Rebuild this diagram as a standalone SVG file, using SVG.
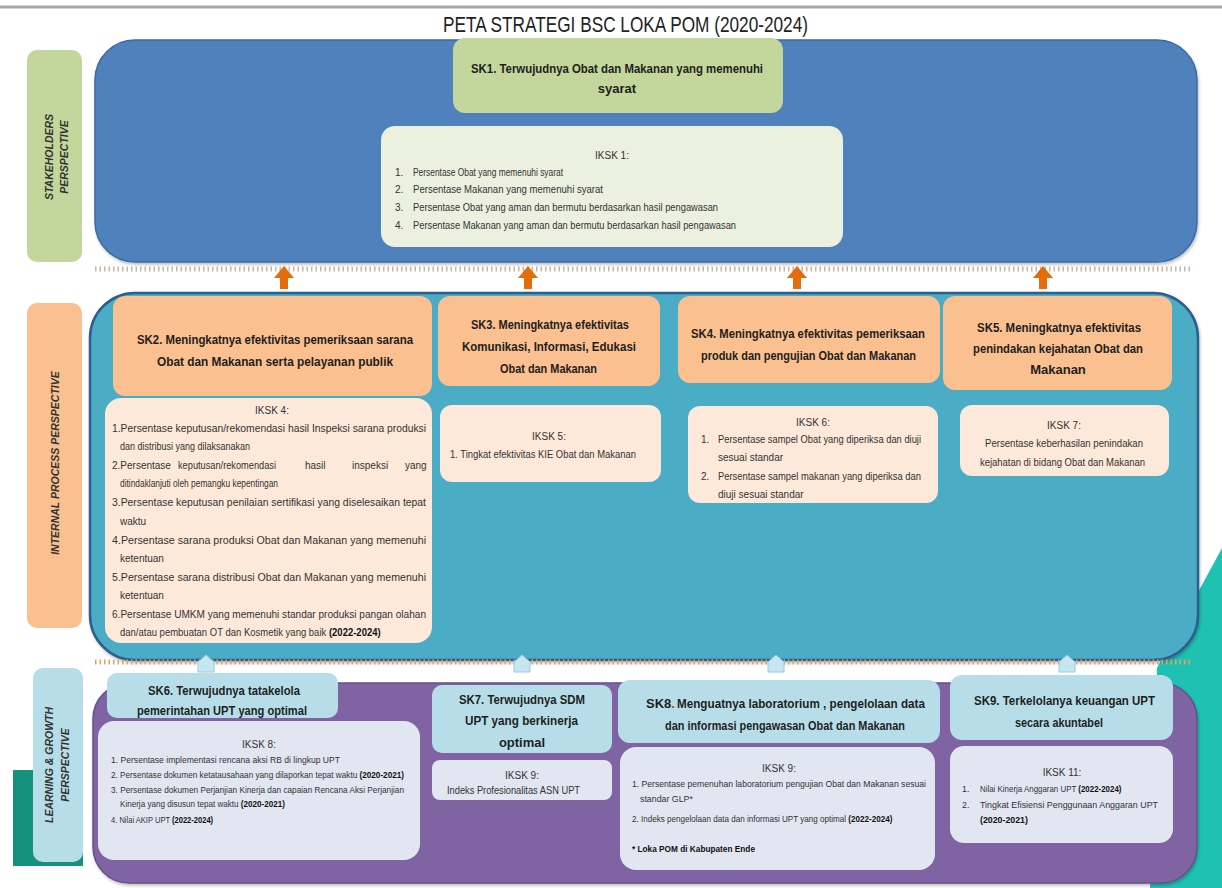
<svg xmlns="http://www.w3.org/2000/svg" width="1222" height="888" viewBox="0 0 1222 888">
<style>
.t{font-family:"Liberation Sans Narrow","Liberation Sans",Arial,sans-serif;fill:#1e1e1e}
.title{font-size:22px;fill:#222}
.sk{font-size:13px;font-weight:bold}
.sk6{font-size:12.5px;font-weight:bold}
.ik{font-size:10px;fill:#333}
.ik8{font-size:8.8px;fill:#333}
.b{font-weight:bold;fill:#111}
.lab{font-size:10.5px;font-weight:bold;font-style:italic;fill:#333}
.org{fill:#fac090}
.orgl{fill:#fde9d9}
.lb{fill:#b7dee8}
.lbl{fill:#e1e6f1}
.dots{fill:none;stroke-width:5;stroke-dasharray:1.5 3}
.arr{fill:#e46c0a}
.pent{fill:#c6e6f0;stroke:#9cc9e0;stroke-width:1}
</style>
<defs>
<filter id="sh" x="-5%" y="-5%" width="110%" height="115%">
<feDropShadow dx="1" dy="2" stdDeviation="1.5" flood-color="#000" flood-opacity="0.25"/>
</filter>
</defs>
<rect width="1222" height="888" fill="#ffffff"/>
<line x1="0" y1="7" x2="1222" y2="7" stroke="#a6a6a6" stroke-width="3"/>
<text class="t title" x="443" y="32" textLength="365" lengthAdjust="spacingAndGlyphs">PETA STRATEGI BSC LOKA POM (2020-2024)</text>

<!-- decorations -->
<path d="M1222,548 L1157,668 L1150,888 L1222,888 Z" fill="#1fc2b2"/>
<rect x="13" y="770" width="70" height="96" fill="#16917f"/>

<!-- perspective labels -->
<g id="label-stakeholders">
<rect x="27" y="50" width="55" height="212" rx="10" fill="#c3d69b"/>
<text class="t lab" transform="translate(53,157) rotate(-90)" text-anchor="middle">STAKEHOLDERS</text>
<text class="t lab" transform="translate(68,157) rotate(-90)" text-anchor="middle">PERSPECTIVE</text>
</g>
<g id="label-internal">
<rect x="27" y="303" width="55" height="325" rx="10" fill="#fac090"/>
<text class="t lab" transform="translate(59,463) rotate(-90)" text-anchor="middle" font-size="11.5">INTERNAL PROCESS PERSPECTIVE</text>
</g>
<g id="label-learning">
<rect x="33" y="668" width="50" height="194" rx="10" fill="#b7dee8"/>
<text class="t lab" transform="translate(53,765) rotate(-90)" text-anchor="middle">LEARNING &amp; GROWTH</text>
<text class="t lab" transform="translate(69,765) rotate(-90)" text-anchor="middle">PERSPECTIVE</text>
</g>

<!-- perspective panels -->
<g id="panel-stakeholders">
<rect x="95" y="40" width="1102" height="222" rx="40" fill="#4f81bd" stroke="#3d6aa0" stroke-width="1.5" filter="url(#sh)"/>
</g>
<g id="panel-internal">
<rect x="90" y="293" width="1108" height="367" rx="45" fill="#4bacc6" stroke="#2d5e8c" stroke-width="2.5" filter="url(#sh)"/>
</g>
<g id="panel-learning">
<rect x="93" y="683" width="1104" height="200" rx="36" fill="#8064a2" stroke="#65508a" stroke-width="1.5" filter="url(#sh)"/>
</g>

<!-- connectors -->
<g id="connectors">
<line class="dots" x1="95" y1="269" x2="1190" y2="269" stroke="#c8b7a3"/>
<line class="dots" x1="95" y1="662" x2="1190" y2="662" stroke="#e0a468"/>
<path class="arr" d="M280,289 L280,278 L274,278 L284,266 L294,278 L288,278 L288,289 Z"/>
<path class="arr" d="M524,289 L524,278 L518,278 L528,266 L538,278 L532,278 L532,289 Z"/>
<path class="arr" d="M793,289 L793,278 L787,278 L797,266 L807,278 L801,278 L801,289 Z"/>
<path class="arr" d="M1039,289 L1039,278 L1033,278 L1043,266 L1053,278 L1047,278 L1047,289 Z"/>
<path class="pent" d="M198,672 L198,662 L206,655 L214,662 L214,672 Z"/>
<path class="pent" d="M514,672 L514,662 L522,655 L530,662 L530,672 Z"/>
<path class="pent" d="M768,672 L768,662 L776,655 L784,662 L784,672 Z"/>
<path class="pent" d="M1059,672 L1059,662 L1067,655 L1075,662 L1075,672 Z"/>
</g>

<!-- Stakeholders -->
<g id="SK1">
<rect x="453" y="38" width="330" height="75" rx="12" fill="#c3d69b"/>
<text class="t sk" x="471" y="72.5" textLength="292" lengthAdjust="spacingAndGlyphs">SK1. Terwujudnya  Obat dan Makanan yang memenuhi</text>
<text class="t sk" x="617" y="92.5" text-anchor="middle">syarat</text>
</g>
<g id="IKSK1">
<rect x="381" y="126" width="462" height="121" rx="14" fill="#ebf1de"/>
<text class="t ik" x="612" y="159" text-anchor="middle">IKSK 1:</text>
<text class="t ik" x="395" y="175.5">1.</text>
<text class="t ik" x="413" y="175.5" textLength="150" lengthAdjust="spacingAndGlyphs">Persentase  Obat yang memenuhi syarat</text>
<text class="t ik" x="395" y="192.5">2.</text>
<text class="t ik" x="413" y="192.5" textLength="190" lengthAdjust="spacingAndGlyphs">Persentase  Makanan yang memenuhi  syarat</text>
<text class="t ik" x="395" y="210.5">3.</text>
<text class="t ik" x="413" y="210.5" textLength="305" lengthAdjust="spacingAndGlyphs">Persentase  Obat yang aman  dan bermutu  berdasarkan hasil  pengawasan</text>
<text class="t ik" x="395" y="228.5">4.</text>
<text class="t ik" x="413" y="228.5" textLength="323" lengthAdjust="spacingAndGlyphs">Persentase  Makanan yang aman dan bermutu  berdasarkan hasil pengawasan</text>
</g>

<!-- Internal process -->
<g id="SK2">
<rect x="113" y="296" width="319" height="100" rx="12" class="org"/>
<text class="t sk" x="137" y="343.5" textLength="276" lengthAdjust="spacingAndGlyphs">SK2. Meningkatnya efektivitas  pemeriksaan sarana</text>
<text class="t sk" x="157" y="365.5" textLength="236" lengthAdjust="spacingAndGlyphs">Obat dan Makanan serta pelayanan publik</text>
</g>
<g id="IKSK4">
<rect x="105" y="398" width="327" height="245" rx="16" class="orgl"/>
<text class="t ik" x="272" y="413.5" text-anchor="middle">IKSK 4:</text>
<text class="t ik" x="112" y="431.5" textLength="314" lengthAdjust="spacingAndGlyphs">1.Persentase  keputusan/rekomendasi hasil Inspeksi sarana produksi</text>
<text class="t ik" x="120" y="450" textLength="130" lengthAdjust="spacingAndGlyphs">dan distribusi  yang dilaksanakan</text>
<text class="t ik" x="112" y="468.5">2.Persentase</text>
<text class="t ik" x="178" y="468.5" textLength="98" lengthAdjust="spacingAndGlyphs">keputusan/rekomendasi</text>
<text class="t ik" x="305" y="468.5">hasil</text>
<text class="t ik" x="352" y="468.5">inspeksi</text>
<text class="t ik" x="405" y="468.5">yang</text>
<text class="t ik" x="120" y="487" textLength="158" lengthAdjust="spacingAndGlyphs">ditindaklanjuti  oleh pemangku kepentingan</text>
<text class="t ik" x="112" y="506" textLength="314" lengthAdjust="spacingAndGlyphs">3.Persentase  keputusan penilaian sertifikasi yang diselesaikan tepat</text>
<text class="t ik" x="120" y="524.5">waktu</text>
<text class="t ik" x="112" y="543.5" textLength="314" lengthAdjust="spacingAndGlyphs">4.Persentase  sarana  produksi  Obat  dan  Makanan  yang  memenuhi</text>
<text class="t ik" x="120" y="561.5">ketentuan</text>
<text class="t ik" x="112" y="580.5" textLength="314" lengthAdjust="spacingAndGlyphs">5.Persentase  sarana  distribusi  Obat   dan  Makanan  yang  memenuhi</text>
<text class="t ik" x="120" y="598.5">ketentuan</text>
<text class="t ik" x="112" y="617.5" textLength="314" lengthAdjust="spacingAndGlyphs">6.Persentase UMKM yang memenuhi standar produksi pangan olahan</text>
<text class="t ik" transform="translate(120,636) scale(0.95,1)">dan/atau pembuatan OT dan Kosmetik yang baik <tspan class="b">(2022-2024)</tspan></text>
</g>
<g id="SK3">
<rect x="438" y="296" width="222" height="90" rx="12" class="org"/>
<text class="t sk" x="471" y="328.5" textLength="158" lengthAdjust="spacingAndGlyphs">SK3. Meningkatnya efektivitas</text>
<text class="t sk" x="462" y="350.5" textLength="174" lengthAdjust="spacingAndGlyphs">Komunikasi, Informasi, Edukasi</text>
<text class="t sk" x="500" y="372.5" textLength="97" lengthAdjust="spacingAndGlyphs">Obat dan Makanan</text>
</g>
<g id="IKSK5">
<rect x="440" y="405" width="221" height="77" rx="12" class="orgl"/>
<text class="t ik" x="549" y="439.5" text-anchor="middle">IKSK 5:</text>
<text class="t ik" x="450" y="457.5" textLength="186" lengthAdjust="spacingAndGlyphs">1. Tingkat efektivitas  KIE Obat dan Makanan</text>
</g>
<g id="SK4">
<rect x="678" y="296" width="262" height="87" rx="12" class="org"/>
<text class="t sk" x="691" y="337.5" textLength="234" lengthAdjust="spacingAndGlyphs">SK4. Meningkatnya efektivitas  pemeriksaan</text>
<text class="t sk" x="701" y="359.5" textLength="215" lengthAdjust="spacingAndGlyphs">produk dan pengujian Obat dan Makanan</text>
</g>
<g id="IKSK6">
<rect x="688" y="406" width="250" height="97" rx="12" class="orgl"/>
<text class="t ik" x="813" y="425.5" text-anchor="middle">IKSK 6:</text>
<text class="t ik" x="701" y="442.5">1.</text>
<text class="t ik" x="718" y="442.5" textLength="203" lengthAdjust="spacingAndGlyphs">Persentase  sampel  Obat  yang diperiksa  dan diuji</text>
<text class="t ik" x="718" y="460.5">sesuai  standar</text>
<text class="t ik" x="701" y="479.5">2.</text>
<text class="t ik" x="718" y="479.5" textLength="203" lengthAdjust="spacingAndGlyphs">Persentase  sampel  makanan  yang diperiksa  dan</text>
<text class="t ik" x="718" y="497.5">diuji sesuai  standar</text>
</g>
<g id="SK5">
<rect x="943" y="296" width="229" height="94" rx="12" class="org"/>
<text class="t sk" x="977" y="331.5" textLength="164" lengthAdjust="spacingAndGlyphs">SK5. Meningkatnya efektivitas</text>
<text class="t sk" x="973" y="352.5" textLength="170" lengthAdjust="spacingAndGlyphs">penindakan kejahatan Obat dan</text>
<text class="t sk" x="1058" y="373.5" text-anchor="middle">Makanan</text>
</g>
<g id="IKSK7">
<rect x="960" y="405" width="209" height="71" rx="12" class="orgl"/>
<text class="t ik" x="1064" y="428.5" text-anchor="middle">IKSK 7:</text>
<text class="t ik" x="985" y="446.5" textLength="158" lengthAdjust="spacingAndGlyphs">Persentase  keberhasilan  penindakan</text>
<text class="t ik" x="980" y="465.5" textLength="165" lengthAdjust="spacingAndGlyphs">kejahatan  di bidang Obat dan Makanan</text>
</g>

<!-- Learning & growth -->
<g id="SK6">
<rect x="107" y="673" width="231" height="45" rx="10" class="lb"/>
<text class="t sk6" x="148" y="694.5" textLength="152" lengthAdjust="spacingAndGlyphs">SK6. Terwujudnya  tatakelola</text>
<text class="t sk6" x="137" y="714.5" textLength="170" lengthAdjust="spacingAndGlyphs">pemerintahan  UPT yang optimal</text>
</g>
<g id="IKSK8">
<rect x="98" y="721" width="322" height="139" rx="16" class="lbl"/>
<text class="t ik" x="259" y="748" text-anchor="middle">IKSK 8:</text>
<text class="t ik8" x="111" y="763" textLength="229" lengthAdjust="spacingAndGlyphs">1. Persentase  implementasi  rencana  aksi RB di lingkup UPT</text>
<text class="t ik8" transform="translate(111,778) scale(0.93,1)">2. Persentase dokumen ketatausahaan yang dilaporkan tepat waktu <tspan class="b">(2020-2021)</tspan></text>
<text class="t ik8" x="111" y="793" textLength="293" lengthAdjust="spacingAndGlyphs">3. Persentase  dokumen  Perjanjian  Kinerja  dan  capaian  Rencana  Aksi Perjanjian</text>
<text class="t ik8" transform="translate(120,807) scale(0.92,1)">Kinerja yang disusun tepat waktu <tspan class="b">(2020-2021)</tspan></text>
<text class="t ik8" transform="translate(111,823) scale(0.86,1)">4. Nilai AKIP UPT <tspan class="b">(2022-2024)</tspan></text>
</g>
<g id="SK7">
<rect x="432" y="685" width="180" height="68" rx="10" class="lb"/>
<text class="t sk" x="459" y="703.5" textLength="126" lengthAdjust="spacingAndGlyphs">SK7. Terwujudnya  SDM</text>
<text class="t sk" x="465" y="724.5" textLength="113" lengthAdjust="spacingAndGlyphs">UPT yang  berkinerja</text>
<text class="t sk" x="522" y="746.5" text-anchor="middle">optimal</text>
</g>
<g id="IKSK9-SDM">
<rect x="432" y="760" width="180" height="40" rx="8" class="lbl"/>
<text class="t ik" x="522" y="778.5" text-anchor="middle">IKSK 9:</text>
<text class="t ik" x="447" y="793.5" textLength="133" lengthAdjust="spacingAndGlyphs">Indeks Profesionalitas  ASN UPT</text>
</g>
<g id="SK8">
<rect x="618" y="680" width="322" height="63" rx="12" class="lb"/>
<text class="t sk" x="646" y="707.5">SK8<tspan fill="#c0392b">.</tspan></text>
<text class="t sk" x="677" y="707.5" textLength="248" lengthAdjust="spacingAndGlyphs">Menguatnya  laboratorium , pengelolaan data</text>
<text class="t sk" x="665" y="729.5" textLength="240" lengthAdjust="spacingAndGlyphs">dan informasi pengawasan  Obat dan Makanan</text>
</g>
<g id="IKSK9-lab">
<rect x="620" y="747" width="315" height="123" rx="16" class="lbl"/>
<text class="t ik" x="779" y="771.5" text-anchor="middle">IKSK 9:</text>
<text class="t ik8" x="632" y="787" textLength="294" lengthAdjust="spacingAndGlyphs">1. Persentase  pemenuhan  laboratorium  pengujian  Obat dan  Makanan  sesuai</text>
<text class="t ik8" x="640" y="802">standar GLP*</text>
<text class="t ik8" transform="translate(632,822) scale(0.92,1)">2. Indeks pengelolaan data dan informasi UPT yang optimal <tspan class="b">(2022-2024)</tspan></text>
<text class="t ik8 b" x="632" y="852" textLength="123" lengthAdjust="spacingAndGlyphs">* Loka POM di Kabupaten Ende</text>
</g>
<g id="SK9">
<rect x="950" y="675" width="223" height="65" rx="12" class="lb"/>
<text class="t sk" x="974" y="704.5" textLength="181" lengthAdjust="spacingAndGlyphs">SK9. Terkelolanya keuangan UPT</text>
<text class="t sk" x="1015" y="726.5" textLength="88" lengthAdjust="spacingAndGlyphs">secara  akuntabel</text>
</g>
<g id="IKSK11">
<rect x="950" y="746" width="223" height="97" rx="14" class="lbl"/>
<text class="t ik" x="1062" y="775.5" text-anchor="middle">IKSK 11:</text>
<text class="t ik8" x="962" y="791.5">1.</text>
<text class="t ik8" transform="translate(980,791.5) scale(0.9,1)">Nilai Kinerja Anggaran UPT <tspan class="b">(2022-2024)</tspan></text>
<text class="t ik8" x="962" y="807.5">2.</text>
<text class="t ik8" x="980" y="807.5" textLength="178" lengthAdjust="spacingAndGlyphs">Tingkat  Efisiensi  Penggunaan  Anggaran  UPT</text>
<text class="t ik8 b" x="980" y="822.5">(2020-2021)</text>
</g>
</svg>
